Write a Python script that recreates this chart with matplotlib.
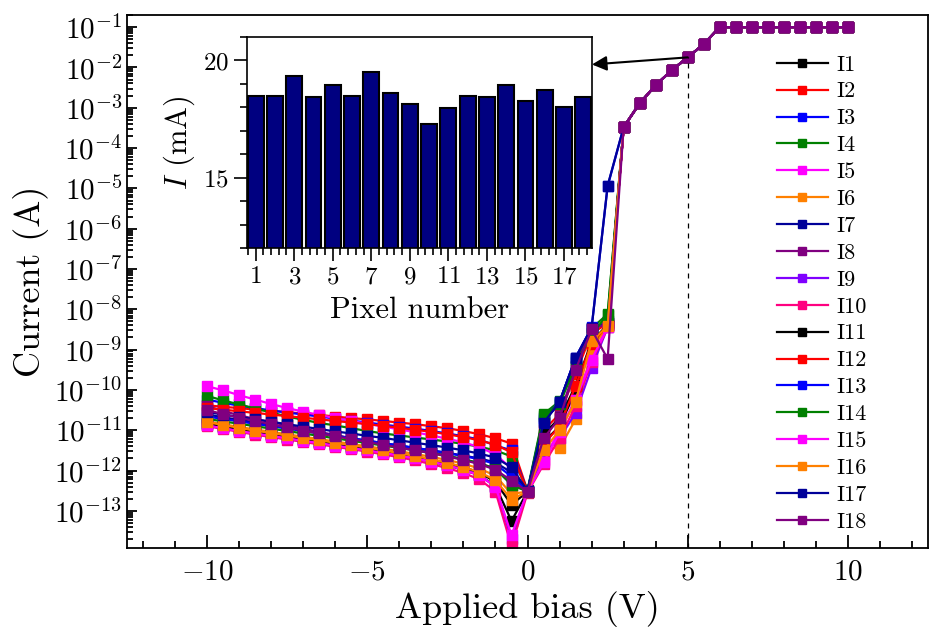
import numpy as np
import matplotlib
matplotlib.use('Agg')
import matplotlib.pyplot as plt
from matplotlib.ticker import LogLocator, MultipleLocator, FuncFormatter, NullFormatter

plt.rcParams['font.family'] = 'serif'
plt.rcParams['font.serif'] = ['cmr10']
plt.rcParams['mathtext.fontset'] = 'cm'
plt.rcParams['axes.unicode_minus'] = False

# bias points (V)
bias_low = [-10, -9.5, -9, -8.5, -8, -7.5, -7, -6.5, -6, -5.5, -5, -4.5, -4, -3.5, -3, -2.5, -2, -1.5, -1, -0.5,
            0, 0.5, 1, 1.5, 2, 2.5]
bias_high = [3, 3.5, 4, 4.5, 5, 5.5, 6, 6.5, 7, 7.5, 8, 8.5, 9, 9.5, 10]

# log10 of current (A), common to all pixels above 3 V
log_high = [-3.48, -2.89, -2.44, -2.07, -1.75, -1.42, -1.0, -1.0, -1.0, -1.0, -1.0, -1.0, -1.0, -1.0, -1.0]

# log10 of current (A) per pixel, -10 V .. 2.5 V
I1 = [-10.86, -10.93, -11.00, -11.07, -11.13, -11.19, -11.25, -11.31, -11.37, -11.43, -11.49, -11.55, -11.62,
      -11.70, -11.78, -11.87, -11.98, -12.12, -12.38, -13.25, -12.52, -11.30, -10.90, -10.03, -8.90, -8.40]
I2 = [-10.38, -10.42, -10.45, -10.49, -10.52, -10.55, -10.59, -10.62, -10.66, -10.70, -10.73, -10.77, -10.81,
      -10.85, -10.90, -10.95, -11.02, -11.10, -11.20, -11.33, -12.50, -11.00, -10.60, -9.60, -8.60, -8.35]
I3 = [-10.24, -10.32, -10.39, -10.45, -10.51, -10.56, -10.61, -10.66, -10.71, -10.76, -10.81, -10.86, -10.91,
      -10.96, -11.02, -11.08, -11.15, -11.23, -11.38, -11.50, -12.50, -10.75, -10.35, -9.30, -8.50, -8.30]
I4 = [-10.15, -10.26, -10.36, -10.46, -10.56, -10.66, -10.74, -10.82, -10.88, -10.95, -11.02, -11.08, -11.13,
      -11.18, -11.23, -11.28, -11.34, -11.41, -11.50, -11.65, -12.48, -10.60, -10.28, -9.25, -8.47, -8.12]
I5 = [-9.91, -10.01, -10.13, -10.24, -10.35, -10.45, -10.54, -10.62, -10.70, -10.77, -10.84, -10.91, -10.98,
      -11.05, -11.13, -11.21, -11.30, -11.42, -11.60, -11.95, -12.52, -11.75, -10.98, -10.24, -9.20, -8.42]
I6 = [-10.78, -10.85, -10.92, -10.98, -11.04, -11.10, -11.16, -11.22, -11.28, -11.34, -11.40, -11.46, -11.52,
      -11.59, -11.66, -11.74, -11.83, -11.95, -12.13, -12.58, -12.52, -11.45, -11.44, -10.73, -9.00, -8.40]
I7 = [-10.61, -10.68, -10.74, -10.81, -10.87, -10.94, -11.00, -11.07, -11.13, -11.20, -11.26, -11.32, -11.38,
      -11.44, -11.50, -11.56, -11.63, -11.70, -11.80, -12.05, -12.50, -10.80, -10.30, -9.20, -8.46, -8.35]
I8 = [-10.40, -10.52, -10.63, -10.72, -10.80, -10.88, -10.96, -11.04, -11.12, -11.20, -11.27, -11.34, -11.41,
      -11.48, -11.55, -11.63, -11.72, -11.82, -11.95, -12.35, -12.52, -11.22, -10.65, -9.41, -8.50, -8.35]
I9 = [-10.85, -10.92, -10.99, -11.06, -11.12, -11.18, -11.24, -11.30, -11.36, -11.42, -11.48, -11.54, -11.61,
      -11.69, -11.77, -11.86, -11.97, -12.12, -12.40, -13.70, -12.52, -11.60, -11.20, -10.57, -9.45, -8.45]
I10 = [-10.90, -10.97, -11.04, -11.11, -11.17, -11.23, -11.29, -11.35, -11.41, -11.47, -11.53, -11.60, -11.67,
       -11.75, -11.84, -11.94, -12.06, -12.22, -12.52, -13.88, -12.55, -11.85, -11.20, -10.40, -9.30, -8.45]
I11 = [-10.83, -10.90, -10.97, -11.04, -11.10, -11.16, -11.22, -11.28, -11.34, -11.40, -11.46, -11.52, -11.58,
       -11.65, -11.73, -11.82, -11.92, -12.05, -12.28, -12.85, -12.52, -11.10, -10.70, -9.90, -8.80, -8.38]
I12 = [-10.45, -10.49, -10.53, -10.57, -10.61, -10.65, -10.69, -10.73, -10.77, -10.81, -10.85, -10.89, -10.94,
       -10.99, -11.04, -11.10, -11.17, -11.25, -11.36, -11.55, -12.52, -11.35, -10.90, -9.90, -8.85, -8.40]
I13 = [-10.66, -10.72, -10.78, -10.84, -10.90, -10.96, -11.02, -11.08, -11.14, -11.20, -11.26, -11.32, -11.38,
       -11.44, -11.50, -11.57, -11.64, -11.72, -11.84, -12.15, -12.50, -10.70, -10.30, -9.20, -8.45, -4.95]
I14 = [-10.72, -10.78, -10.84, -10.90, -10.96, -11.02, -11.08, -11.14, -11.20, -11.26, -11.32, -11.38, -11.44,
       -11.50, -11.57, -11.64, -11.72, -11.82, -11.96, -12.35, -12.52, -10.65, -10.35, -9.40, -8.60, -8.15]
I15 = [-10.88, -10.95, -11.02, -11.08, -11.14, -11.20, -11.26, -11.32, -11.38, -11.44, -11.50, -11.56, -11.63,
       -11.70, -11.78, -11.87, -11.98, -12.12, -12.40, -13.60, -12.52, -11.80, -11.05, -10.25, -9.25, -8.45]
I16 = [-10.80, -10.87, -10.94, -11.01, -11.07, -11.13, -11.19, -11.25, -11.31, -11.37, -11.43, -11.50, -11.57,
       -11.64, -11.72, -11.81, -11.91, -12.04, -12.24, -12.72, -12.52, -11.50, -11.00, -10.30, -8.79, -8.42]
I17 = [-10.55, -10.61, -10.67, -10.73, -10.79, -10.85, -10.91, -10.97, -11.03, -11.08, -11.14, -11.19, -11.25,
       -11.31, -11.37, -11.43, -11.50, -11.58, -11.68, -11.92, -12.50, -10.82, -10.30, -9.20, -8.46, -4.93]
I18 = [-10.50, -10.60, -10.69, -10.77, -10.85, -10.93, -11.01, -11.08, -11.15, -11.22, -11.29, -11.36, -11.43,
       -11.50, -11.57, -11.65, -11.74, -11.84, -11.98, -12.25, -12.52, -11.20, -10.70, -9.50, -8.50, -9.23]

curves = [I1, I2, I3, I4, I5, I6, I7, I8, I9, I10, I11, I12, I13, I14, I15, I16, I17, I18]
labels = ['I%d' % (k + 1) for k in range(18)]
colors = ['#000000', '#ff0000', '#0000ff', '#008000', '#ff00ff', '#ff8000', '#000099', '#800080', '#8000ff',
          '#ff0080', '#000000', '#ff0000', '#0000ff', '#008000', '#ff00ff', '#ff8000', '#000099', '#800080']

# inset: current at 5 V per pixel (mA)
pixel = np.arange(1, 19)
i_5V = [18.49, 18.49, 19.34, 18.46, 18.96, 18.49, 19.53, 18.63, 18.16, 17.29, 17.99, 18.49, 18.46, 18.96,
        18.29, 18.75, 18.03, 18.46]

fig = plt.figure(figsize=(9.38, 6.3), dpi=100)
ax = fig.add_axes([0.1354, 0.1302, 0.854, 0.846])

x_all = np.array(bias_low + bias_high)
for y, lab, c in zip(curves, labels, colors):
    ax.plot(x_all, 10.0 ** np.array(y + log_high), '-s', color=c, label=lab, lw=1.6, ms=6.5)

y_bottom = 1.2e-14
ax.plot([5, 5], [y_bottom, 10 ** log_high[4]], '--', color='black', lw=0.9, dashes=(4, 4))

ax.set_yscale('log')
ax.set_xlim(-12.5, 12.5)
ax.set_ylim(y_bottom, 0.2)
ax.yaxis.set_major_locator(LogLocator(base=10, numticks=40))
ax.yaxis.set_minor_locator(LogLocator(base=10, subs=np.arange(2, 10), numticks=400))
ax.yaxis.set_minor_formatter(NullFormatter())
ax.yaxis.set_major_formatter(FuncFormatter(lambda v, p: r'$10^{%d}$' % round(np.log10(v))))
ax.xaxis.set_major_locator(MultipleLocator(5))
ax.xaxis.set_minor_locator(MultipleLocator(1))
ax.xaxis.set_major_formatter(FuncFormatter(lambda v, p: r'$%g$' % v))
ax.tick_params(axis='both', which='both', direction='in', width=1.3, labelsize=21)
ax.tick_params(axis='x', which='major', length=9.5, pad=8)
ax.tick_params(axis='x', which='minor', length=5)
ax.tick_params(axis='y', which='major', length=7)
ax.tick_params(axis='y', which='minor', length=4.3)
for s in ax.spines.values():
    s.set_linewidth(1.3)
ax.set_xlabel('Applied bias (V)', fontsize=26)
ax.set_ylabel('Current (A)', fontsize=26)

ax.legend(loc='upper left', bbox_to_anchor=(0.811, 0.925), frameon=False, fontsize=16, handlelength=2.3,
          handletextpad=0.4, labelspacing=0.33, borderaxespad=0, borderpad=0, markerscale=0.9)

# inset bar chart
ins = fig.add_axes([0.2633, 0.6063, 0.3678, 0.3349])
ins.bar(pixel, i_5V, width=0.82, color='#000080', edgecolor='black', linewidth=1.5)
ins.set_xlim(0.55, 18.45)
ins.set_ylim(12, 21)
ins.xaxis.set_major_locator(MultipleLocator(2, offset=1))
ins.xaxis.set_minor_locator(MultipleLocator(0.4, offset=0.2))
ins.yaxis.set_major_locator(MultipleLocator(5))
ins.yaxis.set_minor_locator(MultipleLocator(1))
ins.xaxis.set_major_formatter(FuncFormatter(lambda v, p: r'$%d$' % round(v)))
ins.yaxis.set_major_formatter(FuncFormatter(lambda v, p: r'$%d$' % round(v)))
ins.tick_params(axis='both', which='both', direction='out', width=1.2, labelsize=18)
ins.tick_params(axis='both', which='major', length=9.5)
ins.tick_params(axis='both', which='minor', length=5)
for s in ins.spines.values():
    s.set_linewidth(1.2)
ins.set_xlabel('Pixel number', fontsize=22, labelpad=6)
ins.set_ylabel(r'$I$ (mA)', fontsize=22)

ax.annotate('', xy=(1.0, 0.87), xycoords=ins.transAxes, xytext=(5, 10 ** log_high[4]), textcoords='data',
            arrowprops=dict(arrowstyle='-|>', color='black', lw=1.5, mutation_scale=22, shrinkA=0, shrinkB=0))

fig.savefig('out.png', dpi=100)
